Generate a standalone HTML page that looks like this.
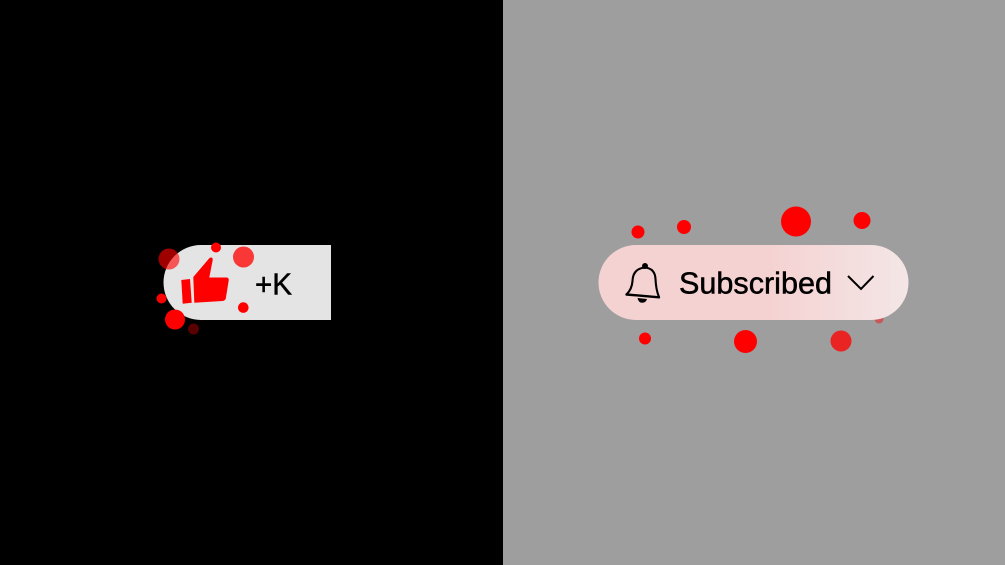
<!DOCTYPE html>
<html>
<head>
<meta charset="utf-8">
<style>
html,body{margin:0;padding:0;width:1005px;height:565px;overflow:hidden;background:#000}
svg{display:block}
text{font-family:"Liberation Sans",sans-serif}
</style>
</head>
<body>
<svg width="1005" height="565" viewBox="0 0 1005 565" xmlns="http://www.w3.org/2000/svg">
<defs>
<linearGradient id="g" x1="0" x2="1" y1="0" y2="0">
<stop offset="0" stop-color="#f5d2d2"/>
<stop offset="0.55" stop-color="#f5d2d2"/>
<stop offset="1" stop-color="#f4e6e6"/>
</linearGradient>
</defs>
<rect x="0" y="0" width="503" height="565" fill="#000"/>
<rect x="503" y="0" width="502" height="565" fill="#9e9e9e"/>

<!-- Left button -->
<path d="M331 245H201a37.500 37.500 0 0 0 0 75H331Z" fill="#e4e4e4"/>
<circle cx="169" cy="259" r="10.500" fill="#ff0000" fill-opacity="0.62"/>
<circle cx="216" cy="247.500" r="5" fill="#ff0000"/>
<circle cx="243.500" cy="257" r="10.500" fill="#ff0000" fill-opacity="0.76"/>
<circle cx="161.500" cy="298.500" r="5" fill="#ff0000"/>
<circle cx="175" cy="319.500" r="10" fill="#ff0000"/>
<circle cx="193.500" cy="329" r="5.500" fill="#ff0000" fill-opacity="0.35"/>
<circle cx="243.300" cy="307.600" r="5.300" fill="#ff0000"/>
<path d="M181.300 280L190 279L191.700 302.700L182.700 303.700Z" fill="#ff0000"/>
<path d="M193.300 277L209.500 258Q212.800 256.500 212.700 260L209.300 277.500L227 277.500Q229 278 228.700 280.500L225.800 298.500Q225 300.800 222.500 301L194.300 302.700Z" fill="#ff0000"/>
<text x="255" y="294.300" font-size="31" fill="#000" stroke="#000" stroke-width="0.5" textLength="37" lengthAdjust="spacingAndGlyphs">+K</text>

<!-- Right button -->
<circle cx="638" cy="232" r="6.500" fill="#ff0000"/>
<circle cx="684" cy="227" r="7" fill="#ff0000"/>
<circle cx="796" cy="221.500" r="15" fill="#ff0000"/>
<circle cx="862" cy="220.500" r="8.500" fill="#ff0000"/>
<circle cx="645" cy="338.500" r="6" fill="#ff0000"/>
<circle cx="745.500" cy="341.500" r="11.500" fill="#ff0000"/>
<circle cx="841" cy="341" r="10.500" fill="#ff0000" fill-opacity="0.78"/>
<circle cx="879" cy="319" r="4.500" fill="#ff0000" fill-opacity="0.45"/>
<rect x="598.500" y="245" width="310" height="75" rx="37.500" fill="url(#g)"/>
<!-- Bell -->
<circle cx="645" cy="266" r="3" fill="#000"/>
<path d="M626.500 294.500Q632 289 632.500 281Q633 268.500 645 267.500Q655 268.500 655.500 279Q656 290 659 297" fill="none" stroke="#000" stroke-width="2.100" stroke-linejoin="round"/>
<path d="M626.500 294.500L659 297.300" stroke="#000" stroke-width="2.400" fill="none" stroke-linecap="round"/>
<path d="M637.500 298Q638.500 302.800 642 302.800Q646 302.800 647 299Z" fill="#000"/>
<text x="679" y="293.300" font-size="31" fill="#000" stroke="#000" stroke-width="0.5" textLength="153" lengthAdjust="spacingAndGlyphs">Subscribed</text>
<path d="M848 276L861 289L873.500 276" fill="none" stroke="#000" stroke-width="2"/>
</svg>
</body>
</html>
